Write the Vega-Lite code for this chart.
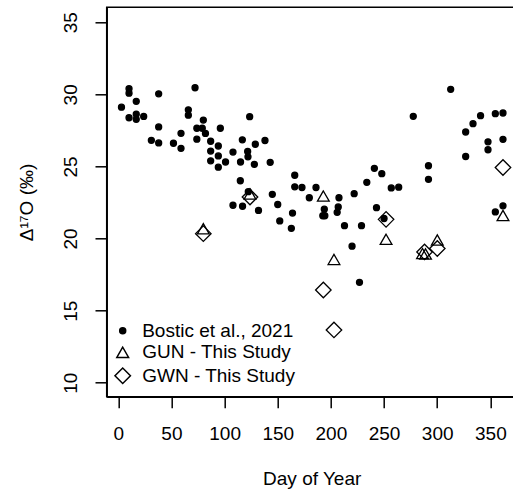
{
  "$schema": "https://vega.github.io/schema/vega-lite/v6.json",
  "autosize": {"type": "none"},
  "width": 408.3,
  "height": 389.4,
  "padding": {"left": 106.7, "top": 7.3, "right": -2, "bottom": 92.3},
  "background": "white",
  "config": {
    "view": {"stroke": "black", "strokeWidth": 1.5},
    "axis": {
      "labelFont": "Liberation Sans",
      "labelFontSize": 19,
      "labelColor": "black",
      "titleFont": "Liberation Sans",
      "titleFontSize": 19,
      "titleFontWeight": "normal",
      "titleColor": "black",
      "tickColor": "black",
      "tickWidth": 1.5,
      "domainColor": "black",
      "domainWidth": 1.5,
      "grid": false,
      "labelFlush": false,
      "labelOverlap": false
    },
    "axisY": {"labelAngle": 270},
    "legend": {
      "labelFont": "Liberation Sans",
      "labelFontSize": 19,
      "labelColor": "black"
    }
  },
  "data": {
    "values": [
      {"day": 3.0, "d17O": 29.11, "group": "Bostic et al., 2021"},
      {"day": 10.1, "d17O": 30.39, "group": "Bostic et al., 2021"},
      {"day": 10.1, "d17O": 30.08, "group": "Bostic et al., 2021"},
      {"day": 16.9, "d17O": 29.52, "group": "Bostic et al., 2021"},
      {"day": 10.1, "d17O": 28.38, "group": "Bostic et al., 2021"},
      {"day": 16.9, "d17O": 28.62, "group": "Bostic et al., 2021"},
      {"day": 16.9, "d17O": 28.27, "group": "Bostic et al., 2021"},
      {"day": 23.9, "d17O": 28.47, "group": "Bostic et al., 2021"},
      {"day": 38.0, "d17O": 30.04, "group": "Bostic et al., 2021"},
      {"day": 38.0, "d17O": 27.74, "group": "Bostic et al., 2021"},
      {"day": 38.0, "d17O": 26.63, "group": "Bostic et al., 2021"},
      {"day": 31.1, "d17O": 26.81, "group": "Bostic et al., 2021"},
      {"day": 51.9, "d17O": 26.61, "group": "Bostic et al., 2021"},
      {"day": 59.0, "d17O": 27.30, "group": "Bostic et al., 2021"},
      {"day": 59.0, "d17O": 26.26, "group": "Bostic et al., 2021"},
      {"day": 65.9, "d17O": 28.93, "group": "Bostic et al., 2021"},
      {"day": 65.9, "d17O": 28.56, "group": "Bostic et al., 2021"},
      {"day": 72.2, "d17O": 30.46, "group": "Bostic et al., 2021"},
      {"day": 73.9, "d17O": 27.65, "group": "Bostic et al., 2021"},
      {"day": 73.9, "d17O": 26.89, "group": "Bostic et al., 2021"},
      {"day": 79.0, "d17O": 27.65, "group": "Bostic et al., 2021"},
      {"day": 80.0, "d17O": 28.22, "group": "Bostic et al., 2021"},
      {"day": 82.0, "d17O": 27.29, "group": "Bostic et al., 2021"},
      {"day": 86.9, "d17O": 26.75, "group": "Bostic et al., 2021"},
      {"day": 86.9, "d17O": 26.07, "group": "Bostic et al., 2021"},
      {"day": 86.9, "d17O": 25.39, "group": "Bostic et al., 2021"},
      {"day": 94.1, "d17O": 26.42, "group": "Bostic et al., 2021"},
      {"day": 94.1, "d17O": 25.73, "group": "Bostic et al., 2021"},
      {"day": 94.1, "d17O": 24.95, "group": "Bostic et al., 2021"},
      {"day": 100.9, "d17O": 25.31, "group": "Bostic et al., 2021"},
      {"day": 96.0, "d17O": 27.65, "group": "Bostic et al., 2021"},
      {"day": 107.9, "d17O": 26.0, "group": "Bostic et al., 2021"},
      {"day": 116.7, "d17O": 26.85, "group": "Bostic et al., 2021"},
      {"day": 121.7, "d17O": 26.04, "group": "Bostic et al., 2021"},
      {"day": 122.0, "d17O": 25.67, "group": "Bostic et al., 2021"},
      {"day": 115.0, "d17O": 25.31, "group": "Bostic et al., 2021"},
      {"day": 128.0, "d17O": 25.15, "group": "Bostic et al., 2021"},
      {"day": 123.6, "d17O": 28.45, "group": "Bostic et al., 2021"},
      {"day": 128.9, "d17O": 26.54, "group": "Bostic et al., 2021"},
      {"day": 138.0, "d17O": 26.80, "group": "Bostic et al., 2021"},
      {"day": 142.9, "d17O": 25.29, "group": "Bostic et al., 2021"},
      {"day": 114.8, "d17O": 24.01, "group": "Bostic et al., 2021"},
      {"day": 107.9, "d17O": 22.31, "group": "Bostic et al., 2021"},
      {"day": 116.9, "d17O": 22.24, "group": "Bostic et al., 2021"},
      {"day": 122.3, "d17O": 23.25, "group": "Bostic et al., 2021"},
      {"day": 131.9, "d17O": 21.95, "group": "Bostic et al., 2021"},
      {"day": 144.9, "d17O": 23.07, "group": "Bostic et al., 2021"},
      {"day": 150.0, "d17O": 22.36, "group": "Bostic et al., 2021"},
      {"day": 163.9, "d17O": 21.77, "group": "Bostic et al., 2021"},
      {"day": 151.9, "d17O": 21.22, "group": "Bostic et al., 2021"},
      {"day": 162.8, "d17O": 20.71, "group": "Bostic et al., 2021"},
      {"day": 166.0, "d17O": 24.39, "group": "Bostic et al., 2021"},
      {"day": 166.0, "d17O": 23.59, "group": "Bostic et al., 2021"},
      {"day": 172.8, "d17O": 23.54, "group": "Bostic et al., 2021"},
      {"day": 186.0, "d17O": 23.54, "group": "Bostic et al., 2021"},
      {"day": 179.7, "d17O": 22.83, "group": "Bostic et al., 2021"},
      {"day": 193.8, "d17O": 22.04, "group": "Bostic et al., 2021"},
      {"day": 192.4, "d17O": 21.58, "group": "Bostic et al., 2021"},
      {"day": 194.3, "d17O": 21.58, "group": "Bostic et al., 2021"},
      {"day": 207.6, "d17O": 22.83, "group": "Bostic et al., 2021"},
      {"day": 206.9, "d17O": 22.19, "group": "Bostic et al., 2021"},
      {"day": 205.9, "d17O": 21.82, "group": "Bostic et al., 2021"},
      {"day": 212.8, "d17O": 20.89, "group": "Bostic et al., 2021"},
      {"day": 221.9, "d17O": 23.11, "group": "Bostic et al., 2021"},
      {"day": 228.8, "d17O": 20.89, "group": "Bostic et al., 2021"},
      {"day": 219.9, "d17O": 19.47, "group": "Bostic et al., 2021"},
      {"day": 226.9, "d17O": 16.96, "group": "Bostic et al., 2021"},
      {"day": 233.8, "d17O": 23.90, "group": "Bostic et al., 2021"},
      {"day": 240.9, "d17O": 24.87, "group": "Bostic et al., 2021"},
      {"day": 247.9, "d17O": 24.50, "group": "Bostic et al., 2021"},
      {"day": 242.9, "d17O": 22.14, "group": "Bostic et al., 2021"},
      {"day": 250.0, "d17O": 21.39, "group": "Bostic et al., 2021"},
      {"day": 256.8, "d17O": 23.51, "group": "Bostic et al., 2021"},
      {"day": 263.8, "d17O": 23.56, "group": "Bostic et al., 2021"},
      {"day": 277.5, "d17O": 28.48, "group": "Bostic et al., 2021"},
      {"day": 291.8, "d17O": 25.05, "group": "Bostic et al., 2021"},
      {"day": 291.8, "d17O": 24.11, "group": "Bostic et al., 2021"},
      {"day": 312.7, "d17O": 30.35, "group": "Bostic et al., 2021"},
      {"day": 326.8, "d17O": 27.39, "group": "Bostic et al., 2021"},
      {"day": 326.8, "d17O": 25.69, "group": "Bostic et al., 2021"},
      {"day": 333.7, "d17O": 27.97, "group": "Bostic et al., 2021"},
      {"day": 340.8, "d17O": 28.52, "group": "Bostic et al., 2021"},
      {"day": 347.8, "d17O": 26.71, "group": "Bostic et al., 2021"},
      {"day": 347.8, "d17O": 26.16, "group": "Bostic et al., 2021"},
      {"day": 354.7, "d17O": 28.66, "group": "Bostic et al., 2021"},
      {"day": 361.9, "d17O": 28.71, "group": "Bostic et al., 2021"},
      {"day": 361.9, "d17O": 26.88, "group": "Bostic et al., 2021"},
      {"day": 354.7, "d17O": 21.85, "group": "Bostic et al., 2021"},
      {"day": 361.9, "d17O": 22.27, "group": "Bostic et al., 2021"},
      {"day": 80.0, "d17O": 20.68, "group": "GUN - This Study"},
      {"day": 123.9, "d17O": 23.09, "group": "GUN - This Study"},
      {"day": 192.9, "d17O": 22.95, "group": "GUN - This Study"},
      {"day": 202.9, "d17O": 18.55, "group": "GUN - This Study"},
      {"day": 251.9, "d17O": 19.95, "group": "GUN - This Study"},
      {"day": 286.2, "d17O": 18.96, "group": "GUN - This Study"},
      {"day": 289.0, "d17O": 18.93, "group": "GUN - This Study"},
      {"day": 300.1, "d17O": 19.90, "group": "GUN - This Study"},
      {"day": 361.9, "d17O": 21.60, "group": "GUN - This Study"},
      {"day": 80.0, "d17O": 20.34, "group": "GWN - This Study"},
      {"day": 123.9, "d17O": 22.88, "group": "GWN - This Study"},
      {"day": 192.9, "d17O": 16.43, "group": "GWN - This Study"},
      {"day": 202.9, "d17O": 13.66, "group": "GWN - This Study"},
      {"day": 251.9, "d17O": 21.33, "group": "GWN - This Study"},
      {"day": 288.1, "d17O": 19.07, "group": "GWN - This Study"},
      {"day": 300.1, "d17O": 19.31, "group": "GWN - This Study"},
      {"day": 361.9, "d17O": 24.93, "group": "GWN - This Study"}
    ]
  },
  "mark": {"type": "point", "stroke": "black", "strokeWidth": 1.3, "opacity": 1},
  "encoding": {
    "x": {
      "field": "day", "type": "quantitative",
      "scale": {"domain": [-10.9, 373.2], "nice": false, "zero": false},
      "axis": {
        "values": [0, 50, 100, 150, 200, 250, 300, 350],
        "tickSize": 11, "labelPadding": 17,
        "title": "Day of Year",
        "titleX": 205, "titleY": 87.8,
        "titleAlign": "center", "titleBaseline": "alphabetic"
      }
    },
    "y": {
      "field": "d17O", "type": "quantitative",
      "scale": {"domain": [9.03, 36.04], "nice": false, "zero": false},
      "axis": {
        "values": [10, 15, 20, 25, 30, 35],
        "tickSize": 11.7, "labelPadding": 15,
        "title": "Δ¹⁷O (‰)",
        "titleAngle": 270, "titleX": -74.7, "titleY": 194.7,
        "titleAlign": "center", "titleBaseline": "alphabetic"
      }
    },
    "shape": {
      "field": "group", "type": "nominal",
      "scale": {"domain": ["Bostic et al., 2021", "GUN - This Study", "GWN - This Study"], "range": ["circle", "triangle-up", "diamond"]},
      "legend": {"orient": "none", "legendX": 6.5, "legendY": 314, "title": null, "padding": 0, "rowPadding": 1.5, "labelOffset": 10,
        "encode": {"symbols": {"update": {"stroke": {"value": "black"}, "strokeWidth": {"value": 1.3}}}}}
    },
    "fill": {
      "field": "group", "type": "nominal",
      "scale": {"domain": ["Bostic et al., 2021", "GUN - This Study", "GWN - This Study"], "range": ["black", "transparent", "transparent"]},
      "legend": {"orient": "none", "legendX": 6.5, "legendY": 314, "title": null, "padding": 0, "rowPadding": 1.5, "labelOffset": 10,
        "encode": {"symbols": {"update": {"stroke": {"value": "black"}, "strokeWidth": {"value": 1.3}}}}}
    },
    "size": {
      "field": "group", "type": "nominal",
      "scale": {"domain": ["Bostic et al., 2021", "GUN - This Study", "GWN - This Study"], "range": [36, 240, 230]},
      "legend": {"orient": "none", "legendX": 6.5, "legendY": 314, "title": null, "padding": 0, "rowPadding": 1.5, "labelOffset": 10,
        "encode": {"symbols": {"update": {"stroke": {"value": "black"}, "strokeWidth": {"value": 1.3}}}}}
    }
  }
}
